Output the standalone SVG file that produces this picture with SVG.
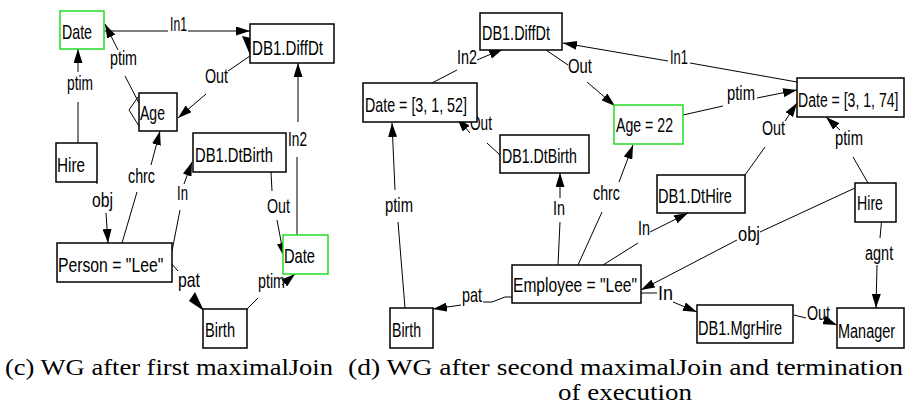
<svg xmlns="http://www.w3.org/2000/svg" width="906" height="412" viewBox="0 0 906 412">
<defs>
<marker id="ah" markerUnits="userSpaceOnUse" markerWidth="14" markerHeight="9" refX="14" refY="4.5" orient="auto">
<path d="M0,0 L14,4.5 L0,9 z" fill="#000"/>
</marker>
<style>
.n rect{fill:#fff;stroke:#000;stroke-width:1.5}
.g rect{fill:#fff;stroke:#22dd22;stroke-width:1.5}
#edges line,#edges polyline{stroke:#000;stroke-width:1;fill:none}
.a{marker-end:url(#ah)}
</style>
</defs>
<rect width="906" height="412" fill="#fff"/>

<g id="edges">
<line x1="104" y1="31" x2="168" y2="31"/>
<line class="a" x1="188" y1="31" x2="250" y2="31"/>
<polygon points="242,36 251,38 250,55" fill="#000"/>
<line x1="250" y1="56" x2="228" y2="71"/>
<line class="a" x1="206" y1="94" x2="178" y2="118"/>
<line x1="297" y1="235" x2="297" y2="157"/>
<line class="a" x1="298" y1="122" x2="298" y2="63"/>
<line x1="78" y1="143" x2="78" y2="102"/>
<line class="a" x1="78" y1="72" x2="78" y2="49"/>
<line x1="139" y1="103" x2="125" y2="76"/>
<line class="a" x1="118" y1="50" x2="105" y2="24"/>
<polyline points="138,97 129,110 139,126"/>
<line x1="122" y1="243" x2="137" y2="192"/>
<line class="a" x1="151" y1="165" x2="160" y2="131"/>
<line x1="96" y1="175" x2="97" y2="184"/>
<line class="a" x1="106" y1="213" x2="108" y2="243"/>
<line x1="172" y1="251" x2="180" y2="210"/>
<line class="a" x1="184" y1="184" x2="192" y2="162"/>
<line x1="271" y1="172" x2="272" y2="191"/>
<line class="a" x1="277" y1="220" x2="284" y2="257"/>
<line x1="247" y1="309" x2="258" y2="298"/>
<line class="a" x1="282" y1="285" x2="295" y2="274"/>
<line x1="171" y1="263" x2="178" y2="271"/>
<polygon points="195,292 189,301 204,311" fill="#000"/>
<line x1="432" y1="83" x2="457" y2="70"/>
<line class="a" x1="477" y1="60" x2="503" y2="49"/>
<line x1="500" y1="155" x2="487" y2="143"/>
<line class="a" x1="470" y1="133" x2="457" y2="118"/>
<line x1="405" y1="308" x2="398" y2="222"/>
<line class="a" x1="395" y1="190" x2="392" y2="123"/>
<polyline points="512,297 505,297 492,302 483,302"/>
<line class="a" x1="461" y1="305" x2="433" y2="309"/>
<line x1="546" y1="50" x2="568" y2="65"/>
<line class="a" x1="587" y1="82" x2="615" y2="106"/>
<line x1="797" y1="82" x2="690" y2="63"/>
<line class="a" x1="668" y1="61" x2="563" y2="43"/>
<polyline points="683,115 723,106"/>
<line class="a" x1="757" y1="98" x2="797" y2="90"/>
<line x1="745" y1="175" x2="765" y2="147"/>
<line class="a" x1="785" y1="121" x2="797" y2="103"/>
<line x1="868" y1="183" x2="853" y2="157"/>
<line class="a" x1="840" y1="130" x2="826" y2="117"/>
<line x1="855" y1="188" x2="760" y2="232"/>
<line class="a" x1="737" y1="240" x2="641" y2="290"/>
<line x1="882" y1="216" x2="880" y2="238"/>
<line class="a" x1="877" y1="265" x2="876" y2="308"/>
<line x1="794" y1="315" x2="806" y2="318"/>
<line class="a" x1="824" y1="320" x2="837" y2="325"/>
<line x1="641" y1="293" x2="657" y2="293"/>
<line class="a" x1="673" y1="302" x2="697" y2="312"/>
<line x1="603" y1="265" x2="638" y2="243"/>
<line class="a" x1="650" y1="232" x2="688" y2="213"/>
<line x1="578" y1="265" x2="602" y2="212"/>
<line class="a" x1="619" y1="182" x2="633" y2="145"/>
<line x1="558" y1="265" x2="560" y2="222"/>
<line class="a" x1="560" y1="198" x2="560" y2="173"/>
</g>

<g id="edge-labels" font-family="Liberation Sans, Arial, sans-serif" font-size="21">
<text x="170" y="31" textLength="17" lengthAdjust="spacingAndGlyphs">In1</text>
<text x="205" y="83" textLength="23" lengthAdjust="spacingAndGlyphs">Out</text>
<text x="288" y="146" textLength="19" lengthAdjust="spacingAndGlyphs">In2</text>
<text x="67" y="90" textLength="26" lengthAdjust="spacingAndGlyphs">ptim</text>
<text x="110" y="65" textLength="27" lengthAdjust="spacingAndGlyphs">ptim</text>
<text x="128" y="183" textLength="27" lengthAdjust="spacingAndGlyphs">chrc</text>
<text x="92" y="207" textLength="21" lengthAdjust="spacingAndGlyphs">obj</text>
<text x="177" y="200" textLength="11" lengthAdjust="spacingAndGlyphs">In</text>
<text x="267" y="213" textLength="23" lengthAdjust="spacingAndGlyphs">Out</text>
<text x="258" y="288" textLength="27" lengthAdjust="spacingAndGlyphs">ptim</text>
<text x="178" y="287" textLength="22" lengthAdjust="spacingAndGlyphs">pat</text>
<text x="457" y="64" textLength="20" lengthAdjust="spacingAndGlyphs">In2</text>
<text x="470" y="130" textLength="22" lengthAdjust="spacingAndGlyphs">Out</text>
<text x="385" y="212" textLength="28" lengthAdjust="spacingAndGlyphs">ptim</text>
<text x="462" y="302" textLength="20" lengthAdjust="spacingAndGlyphs">pat</text>
<text x="568" y="73" textLength="24" lengthAdjust="spacingAndGlyphs">Out</text>
<text x="670" y="64" textLength="18" lengthAdjust="spacingAndGlyphs">In1</text>
<text x="727" y="100" textLength="28" lengthAdjust="spacingAndGlyphs">ptim</text>
<text x="762" y="135" textLength="23" lengthAdjust="spacingAndGlyphs">Out</text>
<text x="835" y="145" textLength="28" lengthAdjust="spacingAndGlyphs">ptim</text>
<text x="738" y="241" textLength="22" lengthAdjust="spacingAndGlyphs">obj</text>
<text transform="translate(865,260) scale(0.69,1)">agnt</text>
<text x="807" y="320" textLength="23" lengthAdjust="spacingAndGlyphs">Out</text>
<text x="658" y="300" textLength="15" lengthAdjust="spacingAndGlyphs">In</text>
<text x="638" y="235" textLength="12" lengthAdjust="spacingAndGlyphs">In</text>
<text x="593" y="200" textLength="27" lengthAdjust="spacingAndGlyphs">chrc</text>
<text x="553" y="215" textLength="12" lengthAdjust="spacingAndGlyphs">In</text>
</g>

<g id="nodes" font-family="Liberation Sans, Arial, sans-serif" font-size="21">
<g id="c-date1" class="g"><rect x="60" y="11" width="44" height="38"/><text x="62" y="39" textLength="30" lengthAdjust="spacingAndGlyphs">Date</text></g>
<g id="c-age" class="n"><rect x="139" y="93" width="38" height="38"/><text x="140" y="120" textLength="25" lengthAdjust="spacingAndGlyphs">Age</text></g>
<g id="c-hire" class="n"><rect x="56" y="143" width="41" height="39"/><text x="57" y="172" textLength="28" lengthAdjust="spacingAndGlyphs">Hire</text></g>
<g id="c-diffdt" class="n"><rect x="250" y="24" width="84" height="39"/><text x="252" y="55" textLength="71" lengthAdjust="spacingAndGlyphs">DB1.DiffDt</text></g>
<g id="c-dtbirth" class="n"><rect x="193" y="133" width="93" height="39"/><text transform="translate(195,162) scale(0.703,1)">DB1.DtBirth</text></g>
<g id="c-date2" class="g"><rect x="283" y="235" width="45" height="39"/><text x="284" y="263" textLength="31" lengthAdjust="spacingAndGlyphs">Date</text></g>
<g id="c-person" class="n"><rect x="57" y="243" width="115" height="39"/><text transform="translate(58,272) scale(0.75,1)">Person = "Lee"</text></g>
<g id="c-birth" class="n"><rect x="203" y="309" width="44" height="39"/><text x="205" y="337" textLength="30" lengthAdjust="spacingAndGlyphs">Birth</text></g>

<g id="d-diffdt" class="n"><rect x="480" y="13" width="82" height="37"/><text x="482" y="40" textLength="68" lengthAdjust="spacingAndGlyphs">DB1.DiffDt</text></g>
<g id="d-date52" class="n"><rect x="363" y="83" width="114" height="39"/><text transform="translate(365,112) scale(0.68,1)">Date = [3, 1, 52]</text></g>
<g id="d-dtbirth" class="n"><rect x="500" y="135" width="89" height="38"/><text transform="translate(502,163) scale(0.676,1)">DB1.DtBirth</text></g>
<g id="d-age" class="g"><rect x="614" y="105" width="69" height="39"/><text x="616" y="132" textLength="57" lengthAdjust="spacingAndGlyphs">Age = 22</text></g>
<g id="d-date74" class="n"><rect x="797" y="78" width="107" height="39"/><text transform="translate(798,107) scale(0.67,1)">Date = [3, 1, 74]</text></g>
<g id="d-dthire" class="n"><rect x="657" y="175" width="88" height="38"/><text x="658" y="203" textLength="74" lengthAdjust="spacingAndGlyphs">DB1.DtHire</text></g>
<g id="d-hire" class="n"><rect x="855" y="183" width="41" height="39"/><text x="857" y="210" textLength="26" lengthAdjust="spacingAndGlyphs">Hire</text></g>
<g id="d-employee" class="n"><rect x="512" y="265" width="129" height="38"/><text transform="translate(513,292) scale(0.742,1)">Employee = "Lee"</text></g>
<g id="d-mgrhire" class="n"><rect x="697" y="305" width="96" height="38"/><text transform="translate(698,335) scale(0.694,1)">DB1.MgrHire</text></g>
<g id="d-manager" class="n"><rect x="837" y="308" width="67" height="40"/><text transform="translate(838,338) scale(0.69,1)">Manager</text></g>
<g id="d-birth" class="n"><rect x="390" y="308" width="43" height="40"/><text x="392" y="337" textLength="29" lengthAdjust="spacingAndGlyphs">Birth</text></g>
</g>

<g id="captions" font-family="Liberation Serif, Times New Roman, serif" font-size="24">
<text x="5" y="375" textLength="328" lengthAdjust="spacingAndGlyphs">(c) WG after first maximalJoin</text>
<text x="348" y="375" textLength="555" lengthAdjust="spacingAndGlyphs">(d) WG after second maximalJoin and termination</text>
<text x="558" y="400" textLength="134" lengthAdjust="spacingAndGlyphs">of execution</text>
</g>
</svg>
